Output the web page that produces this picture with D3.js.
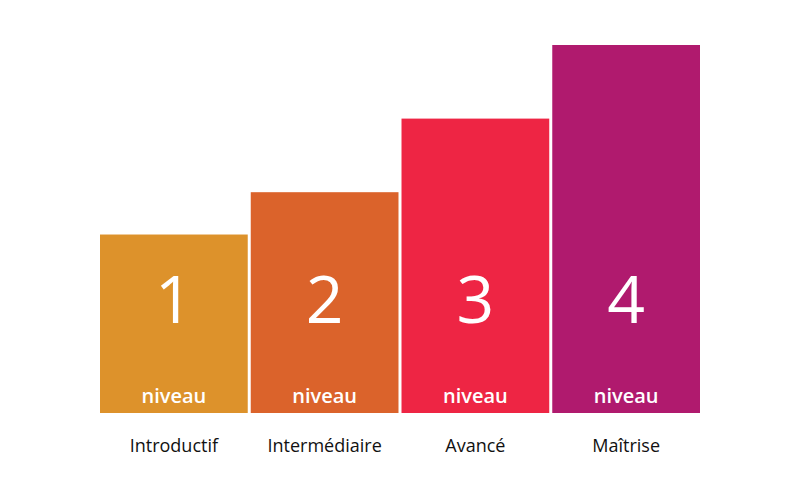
<!DOCTYPE html>
<html><head><meta charset="utf-8">
<script src="https://cdn.jsdelivr.net/npm/d3@7"></script>
<style>body{margin:0;background:#fff}</style>
</head><body>
<svg id="chart" width="800" height="500"></svg>
<script>
const niveaux = ['1', '2', '3', '4'];
const labels = ['Introductif', 'Intermédiaire', 'Avancé', 'Maîtrise'];
const valeurs = [48.5, 60, 80, 100];
const couleurs = ['#DD922B', '#DB632B', '#EE2544', '#B01A6E'];

const svg = d3.select('#chart');
const font = "'Open Sans', sans-serif";

let x = d3.scaleBand().domain(niveaux).range([100, 700]).paddingInner(0.02);
let y = d3.scaleLinear().domain([0, 100]).range([413, 45]);

let g = svg.selectAll('g.bar').data(niveaux).enter().append('g');

g.append('rect')
  .attr('x', d => x(d))
  .attr('y', (d, i) => y(valeurs[i]))
  .attr('width', x.bandwidth())
  .attr('height', (d, i) => y(0) - y(valeurs[i]))
  .attr('fill', (d, i) => couleurs[i]);

g.append('text')
  .attr('x', d => x(d) + x.bandwidth() / 2)
  .attr('y', 323)
  .attr('text-anchor', 'middle')
  .attr('font-family', font).attr('font-size', 66).attr('fill', '#fff')
  .text(d => d);

g.append('text')
  .attr('x', d => x(d) + x.bandwidth() / 2)
  .attr('y', 403)
  .attr('text-anchor', 'middle')
  .attr('font-family', font).attr('font-weight', 600).attr('font-size', 20).attr('fill', '#fff')
  .text('niveau');

g.append('text')
  .attr('x', d => x(d) + x.bandwidth() / 2)
  .attr('y', 452)
  .attr('text-anchor', 'middle')
  .attr('font-family', font).attr('font-size', 18).attr('fill', '#111')
  .text((d, i) => labels[i]);
</script>
</body></html>
